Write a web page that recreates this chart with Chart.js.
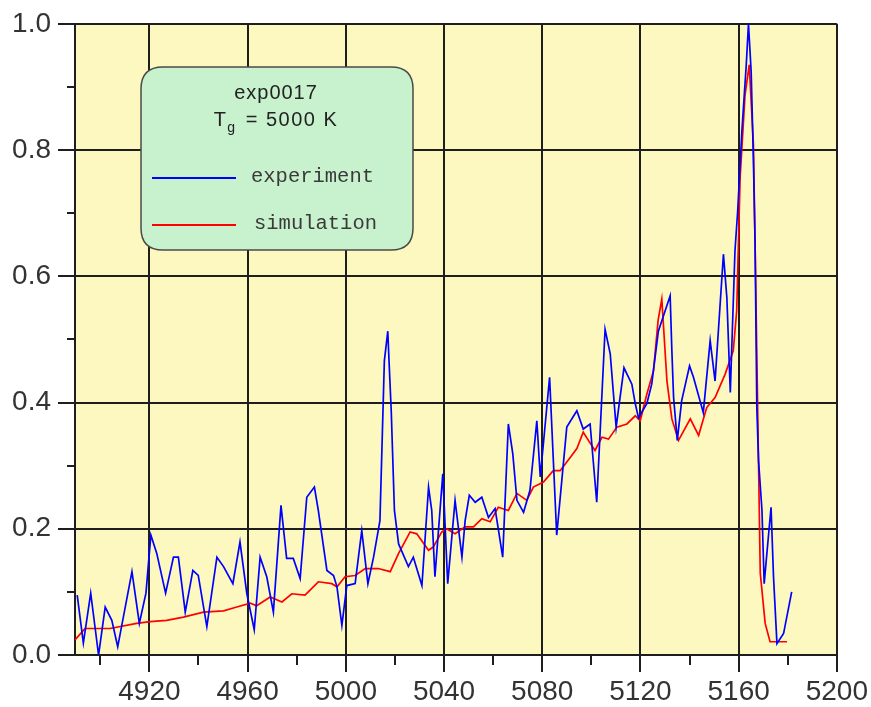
<!DOCTYPE html>
<html>
<head>
<meta charset="utf-8">
<script src="https://cdn.jsdelivr.net/npm/chart.js@4/dist/chart.umd.min.js"></script>
<style>
  html, body { margin: 0; padding: 0; background: #ffffff; }
  #wrap { width: 871px; height: 707px; position: relative; }
</style>
</head>
<body>
<div id="wrap"><canvas id="spectrum" width="871" height="707"></canvas></div>
<script>
// Measured spectrum (wavelength, normalised intensity)
const expWavelength = [4890.6, 4893.1, 4896.1, 4899.3, 4902.0, 4904.7, 4907.1, 4912.9, 4915.9, 4918.6,
  4920.6, 4923.0, 4926.6, 4929.8, 4931.8, 4934.6, 4937.7, 4939.9, 4943.4, 4947.5,
  4950.2, 4954.0, 4956.9, 4959.7, 4962.7, 4965.1, 4967.8, 4970.5, 4973.6, 4975.9,
  4978.6, 4981.4, 4984.1, 4987.2, 4988.8, 4992.3, 4995.0, 4996.4, 4998.4, 5000.4,
  5003.8, 5006.5, 5009.0, 5011.3, 5013.9, 5015.7, 5017.1, 5017.6, 5018.5, 5019.8,
  5021.5, 5025.5, 5027.5, 5031.0, 5033.7, 5035.0, 5036.3, 5039.5, 5041.5, 5044.5,
  5047.3, 5048.6, 5050.3, 5052.7, 5055.4, 5058.1, 5060.8, 5063.9, 5066.2, 5068.0,
  5069.7, 5072.4, 5075.0, 5077.8, 5079.2, 5083.0, 5085.9, 5090.0, 5094.1, 5096.7,
  5099.5, 5102.2, 5105.6, 5107.7, 5110.1, 5113.3, 5116.5, 5117.9, 5119.2, 5122.6,
  5124.6, 5127.3, 5132.1, 5132.8, 5133.5, 5135.0, 5136.8, 5140.0, 5141.6, 5145.6,
  5148.4, 5150.4, 5153.8, 5155.2, 5156.6, 5158.5, 5159.6, 5161.3, 5163.1, 5164.0,
  5165.1, 5166.0, 5166.7, 5167.4, 5168.1, 5169.5, 5170.4, 5172.1, 5173.2, 5174.2,
  5175.6, 5178.3, 5181.6];
const expIntensity = [0.095, 0.019, 0.098, 0.0, 0.076, 0.055, 0.013, 0.132, 0.05, 0.098,
  0.19, 0.161, 0.098, 0.155, 0.155, 0.068, 0.134, 0.126, 0.045, 0.155,
  0.14, 0.113, 0.179, 0.097, 0.04, 0.155, 0.124, 0.068, 0.237, 0.153,
  0.153, 0.121, 0.25, 0.266, 0.229, 0.134, 0.126, 0.108, 0.047, 0.11,
  0.113, 0.197, 0.113, 0.155, 0.213, 0.466, 0.513, 0.466, 0.387, 0.229,
  0.176, 0.14, 0.155, 0.11, 0.266, 0.229, 0.124, 0.287, 0.113, 0.245,
  0.155, 0.213, 0.253, 0.242, 0.25, 0.218, 0.232, 0.155, 0.366, 0.319,
  0.245, 0.226, 0.261, 0.371, 0.282, 0.44, 0.19, 0.361, 0.387, 0.358,
  0.366, 0.242, 0.516, 0.477, 0.361, 0.455, 0.429, 0.398, 0.376, 0.398,
  0.429, 0.513, 0.569, 0.482, 0.408, 0.34, 0.403, 0.458, 0.44, 0.384,
  0.498, 0.434, 0.635, 0.566, 0.416, 0.64, 0.703, 0.829, 0.935, 1.0,
  0.924, 0.787, 0.65, 0.392, 0.308, 0.229, 0.113, 0.187, 0.234, 0.124,
  0.018, 0.034, 0.1];

// Simulated spectrum
const simWavelength = [4889.7, 4893.8, 4904.0, 4914.8, 4920.3, 4927.0, 4933.9, 4942.0, 4950.2, 4955.6,
  4961.1, 4963.7, 4969.2, 4974.0, 4978.0, 4983.4, 4988.8, 4994.3, 4996.4, 4999.7,
  5003.8, 5007.9, 5013.2, 5018.1, 5021.5, 5026.2, 5028.9, 5033.7, 5035.6, 5039.1,
  5041.1, 5044.5, 5048.6, 5052.0, 5055.4, 5058.8, 5062.1, 5066.2, 5069.7, 5073.7,
  5076.4, 5080.5, 5084.5, 5087.3, 5091.4, 5094.1, 5096.7, 5098.8, 5101.5, 5104.3,
  5107.0, 5110.4, 5114.5, 5117.9, 5119.9, 5122.6, 5125.3, 5127.2, 5128.7, 5130.8,
  5132.8, 5135.5, 5140.3, 5143.7, 5147.0, 5150.4, 5154.5, 5157.8, 5159.2, 5160.6,
  5162.6, 5164.3, 5166.0, 5166.7, 5168.1, 5168.8, 5170.8, 5172.8, 5179.7];
const simIntensity = [0.024, 0.042, 0.042, 0.05, 0.053, 0.055, 0.06, 0.068, 0.07, 0.076,
  0.082, 0.078, 0.092, 0.084, 0.097, 0.095, 0.116, 0.113, 0.108, 0.124,
  0.126, 0.137, 0.137, 0.132, 0.161, 0.195, 0.192, 0.166, 0.171, 0.195,
  0.2, 0.192, 0.203, 0.203, 0.216, 0.211, 0.234, 0.229, 0.256, 0.245,
  0.266, 0.274, 0.292, 0.292, 0.313, 0.327, 0.353, 0.34, 0.324, 0.345,
  0.342, 0.361, 0.366, 0.379, 0.371, 0.413, 0.45, 0.53, 0.564, 0.434,
  0.374, 0.34, 0.374, 0.348, 0.392, 0.408, 0.445, 0.482, 0.545, 0.756,
  0.887, 0.935, 0.81, 0.65, 0.303, 0.13, 0.05, 0.021, 0.021];

// Axis ticks
const xTicks = [4920, 4960, 5000, 5040, 5080, 5120, 5160, 5200];
const xMinorTicks = [4900, 4940, 4980, 5020, 5060, 5100, 5140, 5180];
const yTicks = [0.0, 0.2, 0.4, 0.6, 0.8, 1.0];
const yMinorTicks = [0.1, 0.3, 0.5, 0.7, 0.9];
const xRange = [4889.7, 5200];
const yRange = [0, 1];

// Legend text
const legendTitle = 'exp0017';
const legendTempSymbol = 'T';
const legendTempSub = 'g';
const legendTempValue = ' = 5000 K';
const seriesNames = ['experiment', 'simulation'];
const seriesColors = ['#0000ff', '#ff0000'];

const AXIS_COLOR = '#1e1e1e';
const LABEL_COLOR = '#333333';
const SANS = "'Liberation Sans', Arial, sans-serif";
const MONO = "'Liberation Mono', 'Courier New', monospace";

const toPoints = (xs, ys) => xs.map((x, i) => ({ x: x, y: ys[i] }));

const plotDecor = {
  id: 'plotDecor',
  beforeDraw(chart) {
    const { ctx, chartArea: a } = chart;
    ctx.save();
    ctx.fillStyle = '#fcf8c0';
    ctx.fillRect(a.left, a.top, a.right - a.left, a.bottom - a.top);
    ctx.restore();
  },
  afterDraw(chart) {
    const { ctx, chartArea: a, scales } = chart;
    ctx.save();
    // minor tick marks outside the frame
    ctx.strokeStyle = AXIS_COLOR;
    ctx.lineWidth = 2;
    ctx.beginPath();
    xMinorTicks.forEach(v => {
      const px = Math.round(scales.x.getPixelForValue(v));
      ctx.moveTo(px, a.bottom);
      ctx.lineTo(px, a.bottom + 10);
    });
    yMinorTicks.forEach(v => {
      const py = Math.round(scales.y.getPixelForValue(v));
      ctx.moveTo(a.left - 8, py);
      ctx.lineTo(a.left, py);
    });
    ctx.stroke();

    // legend box
    const bx = 141, by = 67, bw = 272, bh = 183, r = 22;
    ctx.beginPath();
    ctx.moveTo(bx + r, by);
    ctx.lineTo(bx + bw - r, by);
    ctx.quadraticCurveTo(bx + bw, by, bx + bw, by + r);
    ctx.lineTo(bx + bw, by + bh - r);
    ctx.quadraticCurveTo(bx + bw, by + bh, bx + bw - r, by + bh);
    ctx.lineTo(bx + r, by + bh);
    ctx.quadraticCurveTo(bx, by + bh, bx, by + bh - r);
    ctx.lineTo(bx, by + r);
    ctx.quadraticCurveTo(bx, by, bx + r, by);
    ctx.closePath();
    ctx.fillStyle = '#c8f1cd';
    ctx.fill();
    ctx.lineWidth = 1.5;
    ctx.strokeStyle = '#4a4a4a';
    ctx.stroke();

    const cx = bx + bw / 2 - 1;
    ctx.fillStyle = '#222222';
    ctx.textBaseline = 'middle';
    ctx.textAlign = 'center';
    ctx.letterSpacing = '1px';
    ctx.font = '20px ' + SANS;
    ctx.fillText(legendTitle, cx, 93);

    // T_g = 5000 K with subscript
    ctx.textAlign = 'left';
    ctx.letterSpacing = '1.5px';
    ctx.font = '20px ' + SANS;
    const wT = ctx.measureText(legendTempSymbol).width;
    const wRest = ctx.measureText(legendTempValue).width;
    ctx.font = '14px ' + SANS;
    const wSub = ctx.measureText(legendTempSub).width;
    const total = wT + wSub + wRest + 2;
    let tx = cx - total / 2;
    ctx.font = '20px ' + SANS;
    ctx.fillText(legendTempSymbol, tx, 120);
    tx += wT;
    ctx.font = '14px ' + SANS;
    ctx.fillText(legendTempSub, tx, 128);
    tx += wSub + 2;
    ctx.font = '20px ' + SANS;
    ctx.fillText(legendTempValue, tx, 120);
    ctx.letterSpacing = '0px';

    // series samples
    const rows = [178, 225];
    const textX = [251, 254];
    rows.forEach((y, i) => {
      ctx.beginPath();
      ctx.strokeStyle = seriesColors[i];
      ctx.lineWidth = 2;
      ctx.moveTo(152, y);
      ctx.lineTo(236, y);
      ctx.stroke();
      ctx.fillStyle = '#3a3a3a';
      ctx.font = '20.5px ' + MONO;
      ctx.textAlign = 'left';
      ctx.fillText(seriesNames[i], textX[i], y - 1);
    });
    ctx.restore();
  }
};

new Chart(document.getElementById('spectrum'), {
  type: 'scatter',
  data: {
    datasets: [
      {
        label: seriesNames[0],
        data: toPoints(expWavelength, expIntensity),
        showLine: true,
        borderColor: seriesColors[0],
        backgroundColor: seriesColors[0],
        borderWidth: 1.7,
        pointRadius: 0,
        tension: 0
      },
      {
        label: seriesNames[1],
        data: toPoints(simWavelength, simIntensity),
        showLine: true,
        borderColor: seriesColors[1],
        backgroundColor: seriesColors[1],
        borderWidth: 1.7,
        pointRadius: 0,
        tension: 0
      }
    ]
  },
  options: {
    responsive: false,
    animation: false,
    devicePixelRatio: 1,
    layout: { padding: { top: 22, right: 34, bottom: 0, left: 0 } },
    plugins: { legend: { display: false }, tooltip: { enabled: false } },
    scales: {
      x: {
        type: 'linear',
        min: xRange[0],
        max: xRange[1],
        afterBuildTicks: axis => { axis.ticks = xTicks.map(v => ({ value: v })); },
        afterFit: axis => { axis.height = 52; },
        ticks: {
          autoSkip: false,
          maxRotation: 0,
          padding: 3,
          color: LABEL_COLOR,
          font: { family: SANS, size: 28 },
          callback: v => String(v)
        },
        grid: { color: AXIS_COLOR, lineWidth: 2, tickLength: 17, drawTicks: true },
        border: { display: true, color: AXIS_COLOR, width: 2 }
      },
      y: {
        type: 'linear',
        min: yRange[0],
        max: yRange[1],
        afterBuildTicks: axis => { axis.ticks = yTicks.map(v => ({ value: v })); },
        afterFit: axis => { axis.width = 75; },
        ticks: {
          padding: 7,
          color: LABEL_COLOR,
          font: { family: SANS, size: 28 },
          callback: v => Number(v).toFixed(1)
        },
        grid: { color: AXIS_COLOR, lineWidth: 2, tickLength: 17, drawTicks: true },
        border: { display: true, color: AXIS_COLOR, width: 2 }
      }
    }
  },
  plugins: [plotDecor]
});
</script>
</body>
</html>
